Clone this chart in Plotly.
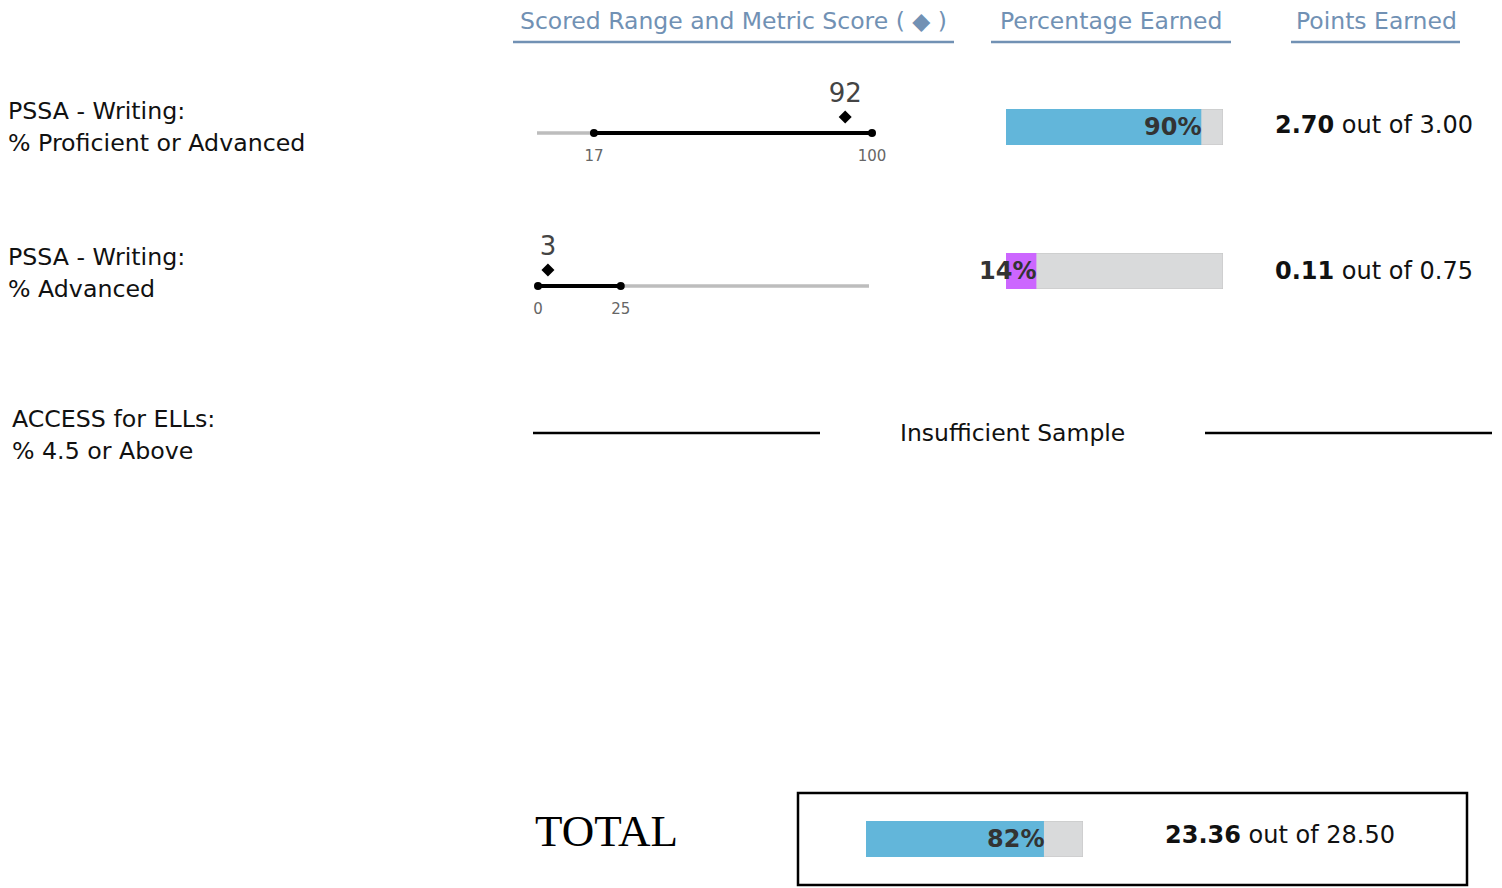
import plotly.graph_objects as go

# ---------------- data ----------------
metric_titles = ["PSSA - Writing:", "PSSA - Writing:", "ACCESS for ELLs:"]
metric_subtitles = ["% Proficient or Advanced", "% Advanced", "% 4.5 or Above"]
range_low = [17, 0]
range_high = [100, 25]
metric_score = [92, 3]
scale_min = [0, 0]
scale_max = [100, 100]
pct_earned = [90, 14]
pct_colors = ["#62B6DA", "#CC66FF"]
points_earned = [2.70, 0.11]
points_possible = [3.00, 0.75]
insufficient_label = "Insufficient Sample"
total_pct = 82
total_points = 23.36
total_possible = 28.50
headers = ["Scored Range and Metric Score ( \u25c6 )", "Percentage Earned", "Points Earned"]

# ---------------- layout helpers ----------------
OFF = 8  # page body margin
W, H = 1502 - OFF, 888 - OFF
FONT = "DejaVu Sans"
HDR = "#7191B4"


def px(x):
    return (x - OFF) / W


def py(y):
    return 1 - (y - OFF) / H


fig = go.Figure()
layout_axes = {}
annotations = []
shapes = []

# headers
header_cx = [733, 1111, 1376]
header_under = [(513, 954), (991, 1231), (1291, 1460)]
for t, cx, (a, b) in zip(headers, header_cx, header_under):
    annotations.append(dict(text=t, x=px(cx), y=py(21), xref="paper", yref="paper",
                            xanchor="center", yanchor="middle", showarrow=False,
                            font=dict(family=FONT, size=23.5, color=HDR)))
    shapes.append(dict(type="line", xref="paper", yref="paper", x0=px(a), x1=px(b),
                       y0=py(42), y1=py(42), line=dict(color=HDR, width=2.5)))

# row labels
label_pos = [(8, 111, 143), (8, 257, 289), (12, 419, 451)]
for t, s, (lx, y1, y2) in zip(metric_titles, metric_subtitles, label_pos):
    for txt, yy in ((t, y1), (s, y2)):
        annotations.append(dict(text=txt, x=px(lx), y=py(yy), xref="paper", yref="paper",
                                xanchor="left", yanchor="middle", showarrow=False, xshift=-2,
                                font=dict(family=FONT, size=23.7, color="#111")))

# range rows (axes in pixel-like vertical units)
range_bands = [(75, 170), (228, 323)]
range_xdom = [(537, 872), (538, 869)]
LINE_V, DIAM_V, LBL_V, TICK_V = 37, 53, 75, 13
for i in range(2):
    ax = i + 1
    xa = "x" if ax == 1 else f"x{ax}"
    ya = "y" if ax == 1 else f"y{ax}"
    top, bot = range_bands[i]
    x0, x1 = range_xdom[i]
    layout_axes["xaxis" if ax == 1 else f"xaxis{ax}"] = dict(
        domain=[px(x0), px(x1)], range=[scale_min[i], scale_max[i]], visible=False,
        anchor=ya, fixedrange=True)
    layout_axes["yaxis" if ax == 1 else f"yaxis{ax}"] = dict(
        domain=[py(bot), py(top)], range=[0, bot - top], visible=False,
        anchor=xa, fixedrange=True)
    # full scale grey line
    fig.add_trace(go.Scatter(x=[scale_min[i], scale_max[i]], y=[LINE_V, LINE_V], mode="lines",
                             line=dict(color="#BDBDBD", width=3.5), xaxis=xa, yaxis=ya,
                             hoverinfo="skip", cliponaxis=False))
    # scored range black line with endpoint dots
    fig.add_trace(go.Scatter(x=[range_low[i], range_high[i]], y=[LINE_V, LINE_V],
                             mode="lines+markers", line=dict(color="#000", width=4),
                             marker=dict(color="#000", size=8), xaxis=xa, yaxis=ya,
                             hoverinfo="skip", cliponaxis=False))
    # endpoint labels
    fig.add_trace(go.Scatter(x=[range_low[i], range_high[i]], y=[TICK_V, TICK_V], mode="text",
                             text=[str(range_low[i]), str(range_high[i])],
                             textfont=dict(family=FONT, size=15, color="#666"),
                             xaxis=xa, yaxis=ya, hoverinfo="skip", cliponaxis=False))
    # metric score diamond and label
    fig.add_trace(go.Scatter(x=[metric_score[i]], y=[DIAM_V], mode="markers",
                             marker=dict(symbol="diamond", color="#000", size=10),
                             xaxis=xa, yaxis=ya, hoverinfo="skip", cliponaxis=False))
    fig.add_trace(go.Scatter(x=[metric_score[i]], y=[LBL_V], mode="text",
                             text=[str(metric_score[i])],
                             textfont=dict(family=FONT, size=26, color="#444"),
                             xaxis=xa, yaxis=ya, hoverinfo="skip", cliponaxis=False))

# percentage bars
bar_specs = [  # (x0, x1, ytop, ybot)
    (1006, 1223, 109, 145),
    (1006, 1223, 253, 289),
    (866, 1083, 821, 857),
]
bar_vals = pct_earned + [total_pct]
bar_cols = pct_colors + ["#62B6DA"]
for j in range(3):
    ax = j + 3
    xa, ya = f"x{ax}", f"y{ax}"
    x0, x1, yt, yb = bar_specs[j]
    layout_axes[f"xaxis{ax}"] = dict(domain=[px(x0), px(x1)], range=[0, 100], visible=False,
                                     anchor=ya, fixedrange=True)
    layout_axes[f"yaxis{ax}"] = dict(domain=[py(yb), py(yt)], range=[-0.5, 0.5], visible=False,
                                     anchor=xa, fixedrange=True)
    fig.add_trace(go.Bar(x=[100], y=[0], orientation="h", width=1, base=0,
                         marker=dict(color="#D9DADB", line=dict(color="#C4C4C4", width=1)),
                         xaxis=xa, yaxis=ya, hoverinfo="skip"))
    fig.add_trace(go.Bar(x=[bar_vals[j]], y=[0], orientation="h", width=1, base=0,
                         marker=dict(color=bar_cols[j], line=dict(width=0)),
                         xaxis=xa, yaxis=ya, hoverinfo="skip"))
    annotations.append(dict(text=f"<b>{bar_vals[j]}%</b>", x=bar_vals[j], y=0,
                            xref=xa, yref=ya, xanchor="right", yanchor="middle",
                            showarrow=False, xshift=2,
                            font=dict(family=FONT, size=24, color="#333")))

# points earned
for i in range(2):
    annotations.append(dict(text=f"<b>{points_earned[i]:.2f}</b> out of {points_possible[i]:.2f}",
                            x=px(1473), y=py([125, 271][i]), xref="paper", yref="paper",
                            xanchor="right", yanchor="middle", showarrow=False, xshift=2,
                            font=dict(family=FONT, size=24, color="#111")))

# insufficient sample row
annotations.append(dict(text=insufficient_label, x=px(1012), y=py(433), xref="paper", yref="paper",
                        xanchor="center", yanchor="middle", showarrow=False,
                        font=dict(family=FONT, size=23.5, color="#111")))
for a, b in [(533, 820), (1205, 1492)]:
    shapes.append(dict(type="line", xref="paper", yref="paper", x0=px(a), x1=px(b),
                       y0=py(433), y1=py(433), line=dict(color="#000", width=2.5)))

# total
annotations.append(dict(text="TOTAL", x=px(535), y=py(831), xref="paper", yref="paper",
                        xanchor="left", yanchor="middle", showarrow=False, xshift=-2,
                        font=dict(family="Liberation Serif", size=45, color="#000")))
shapes.append(dict(type="rect", xref="paper", yref="paper", x0=px(798), x1=px(1467),
                   y0=py(885), y1=py(793), line=dict(color="#000", width=2.5)))
annotations.append(dict(text=f"<b>{total_points:.2f}</b> out of {total_possible:.2f}",
                        x=px(1280), y=py(835), xref="paper", yref="paper",
                        xanchor="center", yanchor="middle", showarrow=False,
                        font=dict(family=FONT, size=24, color="#111")))

fig.update_layout(width=W, height=H, margin=dict(l=0, r=0, t=0, b=0),
                  paper_bgcolor="white", plot_bgcolor="rgba(0,0,0,0)",
                  showlegend=False, barmode="overlay",
                  annotations=annotations, shapes=shapes, **layout_axes)

fig.write_html("out.html", config={"displayModeBar": False})
